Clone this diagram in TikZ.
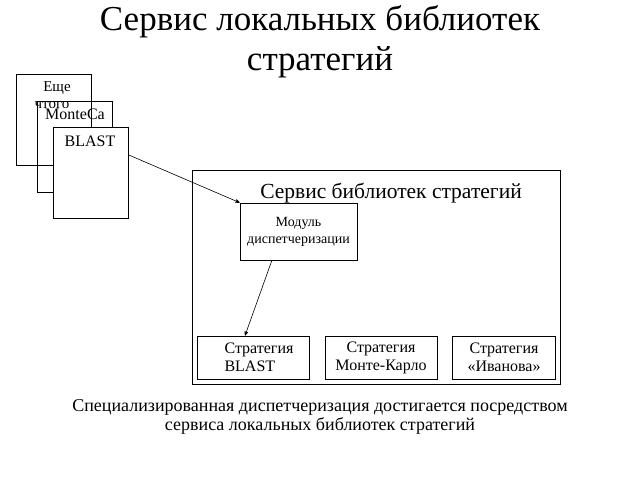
\documentclass[tikz,border=0pt]{standalone}
\usepackage{fontspec}
\setmainfont{Liberation Serif}
\usetikzlibrary{arrows}

\begin{document}
\begin{tikzpicture}[x=1pt,y=-1pt,
  box/.style={draw, line width=0.8pt},
  lib/.style={box, minimum width=75pt, minimum height=91pt, anchor=north west},
  strat/.style={box, minimum width=112pt, minimum height=43pt, align=center, font=\fontsize{16}{18}\selectfont}]
  \useasboundingbox (0,0) rectangle (640,480);
  \node (title) at (320,42) [align=center, font=\fontsize{35}{40}\selectfont] {Сервис локальных библиотек\\стратегий};
  % local libraries
  \node (l1) at (16,74) [lib] {};
  \node (l2) at (37,101) [lib] {};
  \node (l1a) at (57,88) [font=\fontsize{15}{17}\selectfont] {Еще};
  \node (l1b) at (52,105) [font=\fontsize{15}{17}\selectfont] {чтого};
  \node (l2a) at (75,114) [font=\fontsize{16}{18}\selectfont] {MonteCa};
  \node (l3) at (53,127) [lib, fill=white] {};
  \node (l3a) at (90,141) [font=\fontsize{16}{18}\selectfont] {BLAST};
  % service
  \node (srv) at (192,170) [box, minimum width=368pt, minimum height=214pt, anchor=north west] {};
  \node (srvlbl) at (391,193) [font=\fontsize{21.5}{24}\selectfont] {Сервис библиотек стратегий};
  \node (disp) at (298.5,231.5) [box, minimum width=117pt, minimum height=57pt, align=center, font=\fontsize{14}{17}\selectfont] {Модуль\\диспетчеризации};
  \node (s1) at (253,357.5) [strat, align=left] {\hspace*{12pt}Стратегия\\\hspace*{12pt}BLAST};
  \node (s2) at (381,357.5) [strat] {Стратегия\\Монте-Карло};
  \node (s3) at (504,357.5) [strat, minimum width=103pt] {Стратегия\\«Иванова»};
  \node (note) at (320,417) [align=center, font=\fontsize{18}{19.5}\selectfont] {Специализированная диспетчеризация достигается посредством\\сервиса локальных библиотек стратегий};
  \path[->, >=stealth', line width=0.6pt]
  (l3.east |- 0,155) edge (disp.north west)
  (272,260) edge (s1.north -| 245,0)
  ;
\end{tikzpicture}
\end{document}
